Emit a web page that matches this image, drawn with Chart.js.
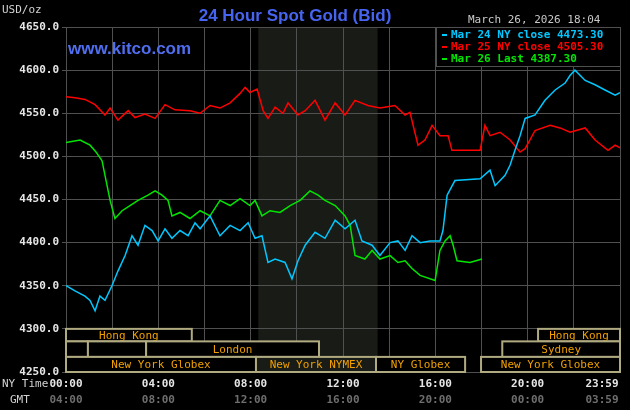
<!DOCTYPE html>
<html>
<head>
<meta charset="utf-8">
<script src="https://cdn.jsdelivr.net/npm/chart.js@4/dist/chart.umd.min.js"></script>
<style>
  html, body { margin: 0; padding: 0; background: #000; }
  #wrap { width: 630px; height: 410px; }
</style>
</head>
<body>
<div id="wrap"><canvas id="gold" width="630" height="410"></canvas></div>
<script>
'use strict';

//colors
var colorBlue = "rgb(0,200,255)";
var colorRed = "rgb(255,0,0)";
var colorGreen = "rgb(0,230,0)";
var colorGrid = "rgb(80,80,80)";
var colorShade = "rgb(24,27,22)";
var colorSession = "rgb(176,170,128)";
var colorSessionText = "rgb(240,160,0)";
var monoFont = "'DejaVu Sans Mono', monospace";

//data (x = hours after 00:00 NY time, y = USD/oz)

var mar24Hours = [0, .39, .82, 1.04, 1.26, 1.47, 1.69, 1.99, 2.25, 2.56, 2.86, 3.12, 3.42, 3.73, 3.99, 4.29, 4.59, 4.94, 5.29, 5.59, 5.81, 6.24, 6.67, 7.11, 7.54, 7.89, 8.19, 8.49, 8.75, 9.06, 9.49, 9.79, 10.05, 10.36, 10.79, 11.22, 11.66, 12.09, 12.52, 12.82, 13.26, 13.6, 14.04, 14.38, 14.69, 14.99, 15.34, 15.77, 16.2, 16.33, 16.51, 16.85, 17.94, 18.37, 18.59, 19.02, 19.24, 19.45, 19.67, 19.89, 20.32, 20.75, 21.19, 21.62, 21.84, 22.05, 22.49, 22.92, 23.35, 23.79, 24];
var mar24Prices = [4350, 4344, 4338, 4333, 4321, 4338, 4333, 4350, 4367, 4385, 4408, 4397, 4420, 4414, 4402, 4416, 4405, 4414, 4408, 4423, 4416, 4431, 4408, 4420, 4414, 4423, 4405, 4408, 4377, 4381, 4377, 4358, 4379, 4397, 4412, 4405, 4426, 4416, 4426, 4402, 4397, 4385, 4400, 4402, 4391, 4408, 4400, 4402, 4402, 4414, 4455, 4472, 4474, 4484, 4466, 4478, 4490, 4507, 4524, 4544, 4548, 4565, 4577, 4585, 4594, 4600, 4588, 4583, 4577, 4571, 4574];

var mar25Hours = [0, .39, .82, 1.26, 1.69, 1.91, 2.25, 2.69, 2.99, 3.42, 3.86, 4.29, 4.72, 5.37, 5.81, 6.24, 6.67, 7.11, 7.54, 7.76, 7.97, 8.28, 8.54, 8.75, 9.06, 9.4, 9.62, 10.05, 10.36, 10.79, 11.22, 11.66, 12.09, 12.52, 13.08, 13.6, 14.25, 14.69, 14.9, 15.25, 15.55, 15.86, 16.2, 16.55, 16.72, 17.94, 18.15, 18.37, 18.8, 19.24, 19.67, 19.89, 20.32, 20.97, 21.4, 21.84, 22.49, 22.92, 23.48, 23.79, 24];
var mar25Prices = [4569, 4568, 4566, 4560, 4548, 4556, 4542, 4553, 4545, 4549, 4544, 4560, 4554, 4553, 4550, 4559, 4556, 4562, 4573, 4580, 4574, 4578, 4553, 4544, 4557, 4550, 4562, 4548, 4553, 4565, 4542, 4562, 4548, 4565, 4559, 4556, 4559, 4548, 4551, 4513, 4519, 4536, 4524, 4524, 4507, 4507, 4536, 4524, 4528, 4519, 4505, 4509, 4530, 4536, 4533, 4528, 4533, 4519, 4507, 4513, 4510];

var mar26Hours = [0, .61, 1.04, 1.3, 1.56, 1.91, 2.12, 2.43, 2.77, 3.12, 3.55, 3.86, 4.16, 4.42, 4.59, 4.94, 5.37, 5.81, 6.24, 6.67, 7.11, 7.54, 7.97, 8.19, 8.49, 8.84, 9.27, 9.71, 10.14, 10.57, 10.92, 11.22, 11.66, 12.09, 12.31, 12.52, 12.95, 13.26, 13.6, 14.04, 14.38, 14.69, 14.99, 15.34, 15.99, 16.2, 16.42, 16.64, 16.77, 16.94, 17.5, 18.02];
var mar26Prices = [4516, 4519, 4513, 4505, 4495, 4449, 4428, 4437, 4443, 4449, 4455, 4460, 4455, 4449, 4431, 4435, 4428, 4437, 4431, 4449, 4443, 4451, 4443, 4449, 4431, 4437, 4435, 4443, 4449, 4460, 4455, 4449, 4443, 4431, 4420, 4385, 4381, 4391, 4381, 4385, 4377, 4379, 4370, 4362, 4356, 4391, 4402, 4408, 4397, 4379, 4377, 4381];

var legendLabels = ["Mar 24 NY close 4473.30", "Mar 25 NY close 4505.30", "Mar 26 Last 4387.30"];

//x axis labels
var labelHours = [0, 4, 8, 12, 16, 20, 24];
var nyLabels = ["00:00", "04:00", "08:00", "12:00", "16:00", "20:00", "23:59"];
var gmtLabels = ["04:00", "08:00", "12:00", "16:00", "20:00", "00:00", "03:59"];

//nymex shading
var nymexStart = 8.33;
var nymexEnd = 13.5;

//trading sessions: start hour, end hour, row, label, shaded
var sessionStart = [0, 20.45, 0, 0.95, 3.47, 18.9, 0, 8.23, 13.43, 17.98];
var sessionEnd = [5.45, 24, 0.95, 3.47, 10.96, 24, 8.23, 13.43, 17.29, 24];
var sessionRow = [0, 0, 1, 1, 1, 1, 2, 2, 2, 2];
var sessionName = ["Hong Kong", "Hong Kong", "", "", "London", "Sydney", "New York Globex", "New York NYMEX", "NY Globex", "New York Globex"];
var sessionShaded = [false, false, false, false, false, false, false, true, false, false];
var rowEdges = [4300, 4285.5, 4267.5, 4250];

function toPoints(hours, prices) {
    return hours.map((h, i) => ({ x: h, y: prices[i] }));
}

//plugin for background shading, sessions, text
const decorations = {
    id: 'decorations',
    beforeDraw(chart) {
        var ctx = chart.ctx;
        var xs = chart.scales.x, ys = chart.scales.y;
        ctx.save();
        ctx.fillStyle = "#000";
        ctx.fillRect(0, 0, chart.width, chart.height);
        ctx.fillStyle = colorShade;
        ctx.fillRect(xs.getPixelForValue(nymexStart), ys.top, xs.getPixelForValue(nymexEnd) - xs.getPixelForValue(nymexStart), ys.bottom - ys.top);
        ctx.restore();
    },
    afterDatasetsDraw(chart) {
        var ctx = chart.ctx;
        var xs = chart.scales.x, ys = chart.scales.y;
        ctx.save();

        //sessions
        ctx.font = "11px " + monoFont;
        ctx.textAlign = "center";
        ctx.textBaseline = "middle";
        for (var i = 0; i < sessionStart.length; i++) {
            var x0 = xs.getPixelForValue(sessionStart[i]);
            var x1 = xs.getPixelForValue(sessionEnd[i]);
            var y0 = ys.getPixelForValue(rowEdges[sessionRow[i]]);
            var y1 = ys.getPixelForValue(rowEdges[sessionRow[i] + 1]);
            ctx.fillStyle = sessionShaded[i] ? colorShade : "#000";
            ctx.fillRect(x0, y0, x1 - x0, y1 - y0);
            ctx.strokeStyle = colorSession;
            ctx.lineWidth = 2;
            ctx.strokeRect(x0, y0, x1 - x0, y1 - y0);
            ctx.fillStyle = colorSessionText;
            ctx.fillText(sessionName[i], (x0 + x1) / 2, (y0 + y1) / 2 + 1);
        }

        //x labels
        ctx.font = "bold 11px " + monoFont;
        labelHours.forEach((h, i) => {
            var px = xs.getPixelForValue(h);
            if (i == labelHours.length - 1) px -= 18;
            ctx.fillStyle = "rgb(230,230,230)";
            ctx.fillText(nyLabels[i], px, ys.bottom + 12);
            ctx.fillStyle = "rgb(110,110,110)";
            ctx.fillText(gmtLabels[i], px, ys.bottom + 28);
        });
        ctx.font = "11px " + monoFont;
        ctx.fillStyle = "rgb(210,210,210)";
        ctx.textAlign = "left";
        ctx.fillText("NY Time", 2, ys.bottom + 12);
        ctx.fillText("GMT", 10, ys.bottom + 28);
        ctx.fillText("USD/oz", 2, 10);

        //titles
        ctx.textAlign = "center";
        ctx.font = "bold 17px 'Liberation Sans', Arial, sans-serif";
        ctx.fillStyle = "rgb(70,100,240)";
        ctx.fillText("24 Hour Spot Gold (Bid)", 295, 16);
        ctx.textAlign = "left";
        ctx.fillStyle = "rgb(80,110,240)";
        ctx.fillText("www.kitco.com", 68, 49);
        ctx.font = "11px " + monoFont;
        ctx.fillStyle = "rgb(200,200,200)";
        ctx.fillText("March 26, 2026 18:04", 468, 20);

        //legend box
        ctx.fillStyle = "#000";
        ctx.fillRect(436, 27, 184, 39);
        ctx.strokeStyle = colorGrid;
        ctx.lineWidth = 1;
        ctx.strokeRect(436.5, 27.5, 184, 39);
        var lc = [colorBlue, colorRed, colorGreen];
        ctx.font = "bold 11px " + monoFont;
        legendLabels.forEach((t, i) => {
            ctx.fillStyle = lc[i];
            ctx.fillRect(442, 34 + i * 12, 5, 2);
            ctx.fillText(t, 451, 35 + i * 12);
        });
        ctx.restore();
    }
};

const goldData = {
    datasets: [{
        label: legendLabels[0],
        borderColor: colorBlue,
        borderWidth: 1.5,
        pointRadius: 0,
        data: toPoints(mar24Hours, mar24Prices)
    },
    {
        label: legendLabels[1],
        borderColor: colorRed,
        borderWidth: 1.5,
        pointRadius: 0,
        data: toPoints(mar25Hours, mar25Prices)
    },
    {
        label: legendLabels[2],
        borderColor: colorGreen,
        borderWidth: 1.5,
        pointRadius: 0,
        data: toPoints(mar26Hours, mar26Prices)
    }]
};

const goldConfig = {
    type: 'line',
    data: goldData,
    options: {
        responsive: false,
        animation: false,
        events: [],
        layout: { padding: { top: 27, right: 10, left: 0, bottom: 0 } },
        plugins: { legend: { display: false }, tooltip: { enabled: false } },
        scales: {
            x: {
                type: 'linear',
                min: 0,
                max: 24,
                afterFit: (s) => { s.height = 38; },
                grid: { color: colorGrid, drawTicks: false },
                border: { color: colorGrid },
                ticks: { stepSize: 2, display: false }
            },
            y: {
                min: 4250,
                max: 4650,
                afterFit: (s) => { s.width = 66; },
                grid: { color: colorGrid, drawTicks: true, tickLength: 4 },
                border: { color: colorGrid },
                ticks: {
                    stepSize: 50,
                    color: "rgb(230,230,230)",
                    padding: 3,
                    font: { family: monoFont, size: 11, weight: 'bold' },
                    callback: (v) => v.toFixed(1)
                }
            }
        }
    },
    plugins: [decorations]
};

window.onload = function () {
    new Chart(document.getElementById('gold'), goldConfig);
};
</script>
</body>
</html>
